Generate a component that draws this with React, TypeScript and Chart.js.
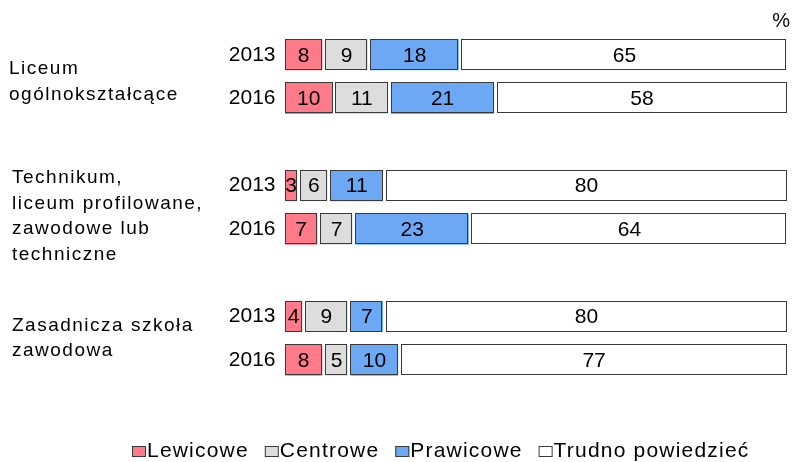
import { useEffect, useRef } from 'react';
import { Chart, registerables } from 'chart.js';

Chart.register(...registerables);

// ---- data ----
const groupLabels: string[][] = [
  ['Liceum', 'ogólnokształcące'],
  ['Technikum,', 'liceum profilowane,', 'zawodowe lub', 'techniczne'],
  ['Zasadnicza szkoła', 'zawodowa'],
];
const years = ['2013', '2016'];
const seriesNames = ['Lewicowe', 'Centrowe', 'Prawicowe', 'Trudno powiedzieć'];
// order: LO 2013, LO 2016, Tech 2013, Tech 2016, ZSZ 2013, ZSZ 2016
const lewicowe = [8, 10, 3, 7, 4, 8];
const centrowe = [9, 11, 6, 7, 9, 5];
const prawicowe = [18, 21, 11, 23, 7, 10];
const trudno = [65, 58, 80, 64, 80, 77];
const unitLabel = '%';

// ---- style ----
const colors = ['#FF7B89', '#DDDDDD', '#6DA8F5', '#FFFFFF'];
const borderCol = '#3a3a3a';
const FONT = "'Liberation Sans', Arial, sans-serif";
const groupLabelX = [9, 12, 12];
const groupLabelNudge = [10.4, 14.2, 5.2];
const groupLineHeight = 25.5;
const legendCenterX = 441;

// rows with spacer rows between groups
const rowLabels: string[] = [];
const rowIndexOf: number[] = [];
groupLabels.forEach((_, g) => {
  years.forEach((y) => {
    rowIndexOf.push(rowLabels.length);
    rowLabels.push(y);
  });
  if (g < groupLabels.length - 1) rowLabels.push('');
});
const toRows = (vals: number[]) => {
  const out: (number | null)[] = rowLabels.map(() => null);
  vals.forEach((v, i) => (out[rowIndexOf[i]] = v));
  return out;
};
const seriesValues = [lewicowe, centrowe, prawicowe, trudno];

const decorPlugin = {
  id: 'decor',
  afterDatasetsDraw(chart: any) {
    const ctx = chart.ctx as CanvasRenderingContext2D;
    ctx.save();
    ctx.strokeStyle = borderCol;
    ctx.lineWidth = 1;
    const labels: { t: string; x: number; y: number }[] = [];
    chart.data.datasets.forEach((ds: any, di: number) => {
      const meta = chart.getDatasetMeta(di);
      meta.data.forEach((el: any, i: number) => {
        const v = ds.data[i];
        if (v == null) return;
        const { x, y, base, height } = el.getProps(['x', 'y', 'base', 'height'], true);
        const l = Math.min(x, base);
        const r = Math.min(Math.max(x, base), chart.chartArea.right);
        const t = y - height / 2;
        const b = y + height / 2;
        ctx.strokeRect(Math.round(l + 2) - 0.5, Math.round(t + 2) - 0.5, Math.round(r - l - 4), Math.round(b - t - 4));
        labels.push({ t: String(v), x: (l + r) / 2, y });
      });
    });
    ctx.fillStyle = '#000';
    ctx.font = `21px ${FONT}`;
    ctx.textAlign = 'center';
    ctx.textBaseline = 'middle';
    labels.forEach((lb) => ctx.fillText(lb.t, lb.x, lb.y + 1));
    ctx.restore();
  },
  afterDraw(chart: any) {
    const ctx = chart.ctx as CanvasRenderingContext2D;
    const yScale = chart.scales.y;
    const area = chart.chartArea;
    ctx.save();
    // group labels
    ctx.fillStyle = '#000';
    ctx.font = `19px ${FONT}`;
    (ctx as any).letterSpacing = '1.5px';
    ctx.textAlign = 'left';
    ctx.textBaseline = 'alphabetic';
    groupLabels.forEach((lines, g) => {
      const c = (yScale.getPixelForValue(rowIndexOf[g * 2]) + yScale.getPixelForValue(rowIndexOf[g * 2 + 1])) / 2;
      const first = c - ((lines.length - 1) * groupLineHeight) / 2 + groupLabelNudge[g];
      lines.forEach((ln, k) => ctx.fillText(ln, groupLabelX[g], first + k * groupLineHeight));
    });
    // unit
    (ctx as any).letterSpacing = '0px';
    ctx.font = `20px ${FONT}`;
    ctx.textAlign = 'right';
    ctx.textBaseline = 'middle';
    ctx.fillText(unitLabel, area.right + 1.5, 21);
    // legend
    ctx.font = `21px ${FONT}`;
    (ctx as any).letterSpacing = '1.2px';
    ctx.textAlign = 'left';
    ctx.textBaseline = 'alphabetic';
    const boxW = 14, boxH = 11, boxGap = 1, itemGap = 16;
    const widths = chart.data.datasets.map((ds: any) => ctx.measureText(ds.label).width);
    const total = widths.reduce((a: number, w: number) => a + boxW + boxGap + w, 0) + itemGap * (widths.length - 1);
    let x = Math.round(legendCenterX - total / 2);
    const boxTop = 446;
    chart.data.datasets.forEach((ds: any, i: number) => {
      ctx.fillStyle = ds.backgroundColor;
      ctx.fillRect(x, boxTop, boxW, boxH);
      ctx.strokeStyle = borderCol;
      ctx.lineWidth = 1;
      ctx.strokeRect(x + 0.5, boxTop + 0.5, boxW - 1, boxH - 1);
      ctx.fillStyle = '#000';
      ctx.fillText(ds.label, x + boxW + boxGap, 457);
      x += boxW + boxGap + widths[i] + itemGap;
    });
    ctx.restore();
  },
};

export default function App() {
  const ref = useRef<HTMLCanvasElement>(null);
  useEffect(() => {
    if (!ref.current) return;
    Chart.defaults.font.family = FONT;
    const chart = new Chart(ref.current, {
      type: 'bar',
      data: {
        labels: rowLabels,
        datasets: seriesNames.map((name, i) => ({
          label: name,
          data: toRows(seriesValues[i]),
          backgroundColor: colors[i],
          borderWidth: 0,
          inflateAmount: -1.5,
          barPercentage: 0.78,
          categoryPercentage: 1,
        })) as any,
      },
      options: {
        indexAxis: 'y',
        responsive: false,
        animation: false,
        events: [],
        layout: { padding: { top: 33, bottom: 80, left: 0, right: 4.5 } },
        scales: {
          x: { stacked: true, min: 0, max: 100, display: false },
          y: {
            stacked: true,
            grid: { display: false, drawTicks: false },
            border: { display: false },
            ticks: { color: '#000', font: { size: 21, family: FONT }, padding: 8, autoSkip: false },
            afterFit: (s: any) => {
              s.width = 283.5;
            },
          },
        },
        plugins: { legend: { display: false }, tooltip: { enabled: false } },
      },
      plugins: [decorPlugin],
    });
    return () => chart.destroy();
  }, []);
  return (
    <div style={{ position: 'fixed', left: 0, top: 0, width: 793, height: 462, background: '#fff' }}>
      <canvas ref={ref} width={793} height={462} style={{ display: 'block' }} />
    </div>
  );
}
